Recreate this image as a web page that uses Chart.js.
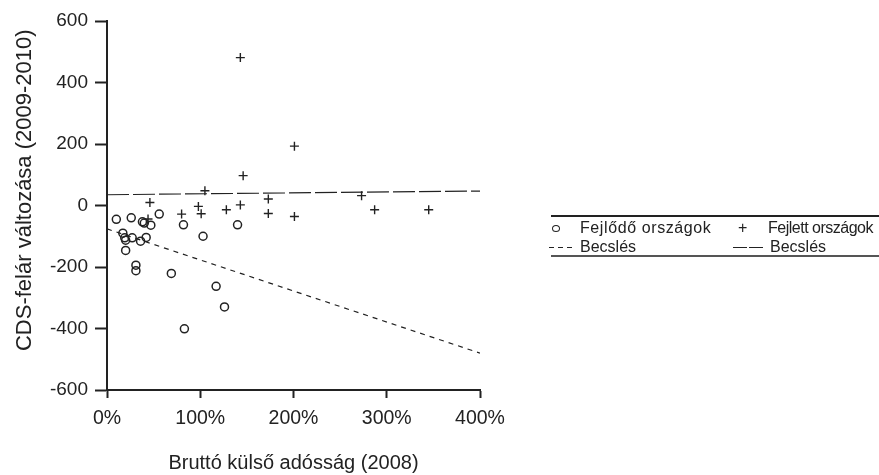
<!DOCTYPE html>
<html>
<head>
<meta charset="utf-8">
<script src="https://cdn.jsdelivr.net/npm/chart.js@4"></script>
<style>
  body { margin: 0; background: #fff; font-family: "Liberation Sans", Arial, sans-serif; color: #222; }
  #wrap { position: relative; width: 879px; height: 475px; overflow: hidden; }
  #myChart { position: absolute; left: 0; top: 0; }
  .lg { position: absolute; font-size: 16px; line-height: 18px; white-space: nowrap; }
  .rule { position: absolute; left: 551px; width: 330px; height: 0; }
</style>
</head>
<body>
<div id="wrap">
  <canvas id="myChart" width="879" height="475"></canvas>
  <div class="rule" style="top:215px;border-top:2px solid #222;"></div>
  <div class="rule" style="top:255px;border-top:2px solid #555;"></div>
  <div style="position:absolute;left:552px;top:225px;width:6px;height:5px;border:1.4px solid #222;border-radius:50%;"></div>
  <div class="lg" style="left:580px;top:219px;letter-spacing:0.6px;">Fejlődő országok</div>
  <div class="lg" style="left:738px;top:219px;">+</div>
  <div class="lg" style="left:768px;top:219px;letter-spacing:-0.5px;">Fejlett országok</div>
  <div style="position:absolute;left:549px;top:247px;width:24px;height:1.3px;background:repeating-linear-gradient(to right,#222 0 5px,transparent 5px 9px);"></div>
  <div class="lg" style="left:580px;top:238px;">Becslés</div>
  <div style="position:absolute;left:733px;top:247px;width:30px;height:1.3px;background:repeating-linear-gradient(to right,#222 0 14px,transparent 14px 16px);"></div>
  <div class="lg" style="left:770px;top:238px;">Becslés</div>
</div>
<script>
// Fejlődő országok (kör)
const fejlodoX = [10, 26, 38, 40, 47, 56, 82, 140, 17, 19, 20, 20, 27, 36, 42, 103, 31, 31, 69, 117, 126, 83];
const fejlodoY = [-45, -40, -53, -57, -64, -28, -63, -63, -90, -105, -113, -146, -105, -116, -104, -100, -194, -212, -221, -263, -330, -401];
// Fejlett országok (kereszt)
const fejlettX = [143, 201, 146, 105, 143, 173, 173, 201, 273, 287, 345, 98, 101, 128, 80, 46, 44];
const fejlettY = [481, 193, 97, 48, 2, 21, -26, -36, 32, -14, -14, -3, -27, -14, -28, 10, -44];
// Becslés vonalak
const becslesX = [0, 400];
const becslesFejlodo = [-76, -480];
const becslesFejlett = [35, 47];
// tengelyek
const xTicks = [0, 100, 200, 300, 400];
const yTicks = [-600, -400, -200, 0, 200, 400, 600];

function pontok(xs, ys){
  let res = [];
  for (var i = 0; i < xs.length; i++) {
    res.push({x: xs[i], y: ys[i]});
  }
  return res;
}

const fekete = '#222';
const ctx = document.getElementById('myChart');
const myChart = new Chart(ctx, {
  type: 'scatter',
  data: {
    datasets: [
      {
        label: 'Becslés',
        data: pontok(becslesX, becslesFejlodo),
        showLine: true,
        borderColor: fekete,
        borderWidth: 1.2,
        borderDash: [5, 5],
        pointRadius: 0
      },
      {
        label: 'Becslés',
        data: pontok(becslesX, becslesFejlett),
        showLine: true,
        borderColor: fekete,
        borderWidth: 1.2,
        borderDash: [22, 4],
        pointRadius: 0
      },
      {
        label: 'Fejlődő országok',
        data: pontok(fejlodoX, fejlodoY),
        pointStyle: 'circle',
        pointRadius: 4,
        borderColor: fekete,
        borderWidth: 1.5,
        backgroundColor: 'rgba(0,0,0,0)'
      },
      {
        label: 'Fejlett országok',
        data: pontok(fejlettX, fejlettY),
        pointStyle: 'cross',
        pointRadius: 4.5,
        borderColor: fekete,
        borderWidth: 1.4
      }
    ]
  },
  options: {
    responsive: false,
    animation: false,
    layout: { padding: { top: 21, right: 399, bottom: 0, left: 0 } },
    plugins: {
      legend: { display: false },
      tooltip: { enabled: false }
    },
    scales: {
      x: {
        type: 'linear',
        min: xTicks[0],
        max: xTicks[xTicks.length - 1],
        afterBuildTicks: s => { s.ticks = xTicks.map(v => ({value: v})); },
        afterFit: s => { s.height = 85; },
        ticks: {
          callback: v => v + '%',
          color: fekete,
          font: { family: 'Liberation Sans', size: 19.5 },
          padding: 9,
          maxRotation: 0
        },
        grid: { drawOnChartArea: false, drawTicks: true, tickLength: 8, tickColor: fekete, tickWidth: 2 },
        border: { display: true, color: fekete, width: 2 },
        title: {
          display: true,
          text: 'Bruttó külső adósság (2008)',
          color: fekete,
          font: { family: 'Liberation Sans', size: 20 },
          padding: { top: 0, bottom: 0 }
        }
      },
      y: {
        min: yTicks[0],
        max: yTicks[yTicks.length - 1],
        afterBuildTicks: s => { s.ticks = yTicks.map(v => ({value: v})); },
        afterFit: s => { s.width = 107; },
        ticks: {
          color: fekete,
          font: { family: 'Liberation Sans', size: 19 },
          padding: 7
        },
        grid: { drawOnChartArea: false, drawTicks: true, tickLength: 12, tickColor: fekete, tickWidth: 2 },
        border: { display: true, color: fekete, width: 2 },
        title: {
          display: true,
          text: '     CDS-felár változása (2009-2010)',
          color: fekete,
          font: { family: 'Liberation Sans', size: 22 },
          padding: { top: 12, bottom: 0 }
        }
      }
    }
  }
});
</script>
</body>
</html>
